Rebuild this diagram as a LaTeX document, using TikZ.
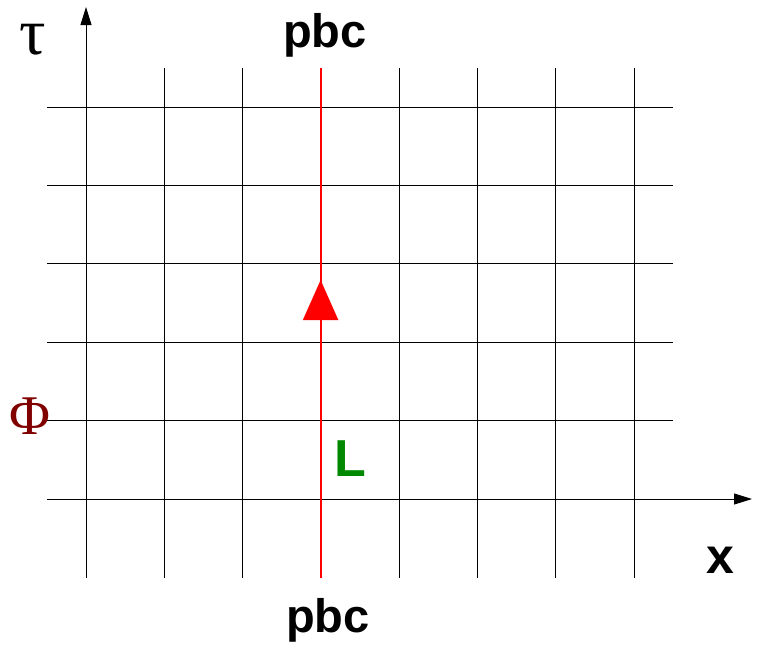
\documentclass[tikz,border=0pt]{standalone}
\usepackage{fontspec}
\setmainfont{Liberation Serif}
\setsansfont{Liberation Sans}
\usetikzlibrary{arrows.meta}
\definecolor{phired}{RGB}{128,0,0}
\definecolor{lgreen}{RGB}{0,136,0}
\begin{document}
\begin{tikzpicture}[x=1pt,y=-1pt,
  gridline/.style={black,line width=0.9pt},
  axis/.style={black,line width=0.9pt,-{Triangle[length=18pt,width=11pt]}},
  bigsans/.style={font=\sffamily\bfseries\fontsize{47}{47}\selectfont,inner sep=0pt,anchor=base},
  greek/.style={font=\rmfamily\fontsize{56}{56}\selectfont,inner sep=0pt}]
\useasboundingbox (0,0) rectangle (757,648);
% vertical grid lines
\foreach \i in {0,1,2,4,5,6,7}{
  \coordinate (vt\i) at ({86+78.3*\i},68);
  \coordinate (vb\i) at ({86+78.3*\i},578);
  \draw[gridline] (vt\i) -- (vb\i);
}
% horizontal grid lines
\foreach \j in {0,...,4}{
  \coordinate (hl\j) at (47,{107+78.4*\j});
  \coordinate (hr\j) at (673,{107+78.4*\j});
  \draw[gridline] (hl\j) -- (hr\j);
}
% axes
\coordinate (xs) at (47,499);
\coordinate (xe) at (752,499);
\draw[axis] (xs) -- (xe);
\coordinate (ts) at (86,578);
\coordinate (te) at (86,7);
\draw[axis] (ts) -- (te);
% red line
\coordinate (rb) at (320.6,578);
\coordinate (rt) at (320.6,68);
\coordinate (rm) at (320.6,280);
\draw[red,line width=2pt] (rb) -- (rt);
\draw[red,line width=2pt,-{Triangle[length=40pt,width=35pt]}] (rb) -- (rm);
% labels
\node[bigsans] (pbct) at (325,47) {pbc};
\node[bigsans] (pbcb) at (328,632) {pbc};
\node[bigsans,font=\sffamily\bfseries\fontsize{50}{50}\selectfont] (xl) at (720,573) {x};
\node[bigsans,text=lgreen,font=\sffamily\bfseries\fontsize{52}{52}\selectfont] (ll) at (350,476) {L};
\node[greek,text=phired,anchor=base] (phi) at (30,434) {Φ};
\node[greek,font=\rmfamily\fontsize{66}{66}\selectfont] (tau) at (33,40) {τ};
\end{tikzpicture}
\end{document}
